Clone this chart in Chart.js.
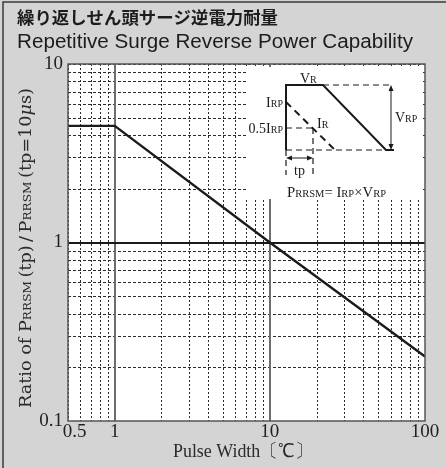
<!DOCTYPE html>
<html>
<head>
<meta charset="utf-8">
<script src="https://cdn.jsdelivr.net/npm/chart.js@4/dist/chart.umd.min.js"></script>
<style>
  html, body { margin: 0; padding: 0; background: #d4d4d4; }
</style>
</head>
<body>
<canvas id="c" width="446" height="468"></canvas>
<script>
// Surge reverse power derating curve (log-log)
const pulseWidth = [0.5, 1, 10, 100];
const powerRatio = [4.5, 4.5, 1, 0.23];

// Grid positions (1-2-...-9 per decade)
const xGridValues = [0.5, 0.6, 0.7, 0.8, 0.9, 1, 2, 3, 4, 5, 6, 7, 8, 9, 10, 20, 30, 40, 50, 60, 70, 80, 90, 100];
const yGridValues = [0.1, 0.2, 0.3, 0.4, 0.5, 0.6, 0.7, 0.8, 0.9, 1, 2, 3, 4, 5, 6, 7, 8, 9, 10];
const xTickLabels = ['0.5', '1', '10', '100'];
const yTickLabels = ['0.1', '1', '10'];
const xMajorLines = [1, 10];
const yMajorLines = [1];

const titleJa = '繰り返しせん頭サージ逆電力耐量';
const titleEn = 'Repetitive Surge Reverse Power Capability';
const xTitle = 'Pulse Width〔℃〕';

const SERIF = '"Liberation Serif", "Times New Roman", serif';
const WIDE_SERIF = '"DejaVu Serif", serif';
const BG = '#d4d4d4';

// draw a run of text pieces (text, size, style, family) on one baseline,
// optionally stretched to a given total width
function textRun(ctx, pieces, x, y, align, fitWidth) {
  const fontOf = p => (p[2] || '') + ' ' + p[1] + 'px ' + (p[3] || SERIF);
  let total = 0;
  const widths = pieces.map(p => {
    ctx.font = fontOf(p);
    const w = ctx.measureText(p[0]).width;
    total += w;
    return w;
  });
  const k = fitWidth ? fitWidth / total : 1;
  const shown = total * k;
  const start = align === 'center' ? x - shown / 2 : align === 'right' ? x - shown : x;
  ctx.save();
  ctx.translate(start, y);
  ctx.scale(k, 1);
  ctx.textAlign = 'left';
  ctx.textBaseline = 'alphabetic';
  let cx = 0;
  pieces.forEach((p, i) => {
    ctx.font = fontOf(p);
    ctx.fillText(p[0], cx, 0);
    cx += widths[i];
  });
  ctx.restore();
}

function line(ctx, x1, y1, x2, y2, w, dash) {
  ctx.save();
  ctx.lineWidth = w;
  ctx.setLineDash(dash || []);
  ctx.beginPath();
  ctx.moveTo(x1, y1);
  ctx.lineTo(x2, y2);
  ctx.stroke();
  ctx.restore();
}

function arrowHead(ctx, x, y, dx, dy) {
  const len = 6, wid = 2.5;
  ctx.beginPath();
  ctx.moveTo(x, y);
  ctx.lineTo(x - dx * len - dy * wid, y - dy * len + dx * wid);
  ctx.lineTo(x - dx * len + dy * wid, y - dy * len - dx * wid);
  ctx.closePath();
  ctx.fill();
}

const framePlugin = {
  id: 'frame',
  beforeDraw(chart) {
    const { ctx, chartArea: a } = chart;
    ctx.save();
    ctx.fillStyle = BG;
    ctx.fillRect(0, 0, chart.width, chart.height);
    ctx.strokeStyle = '#3a3a3a';
    ctx.lineWidth = 1.5;
    ctx.beginPath();
    ctx.moveTo(3, chart.height);
    ctx.lineTo(3, 2);
    ctx.lineTo(chart.width, 2);
    ctx.stroke();
    ctx.fillStyle = '#ffffff';
    ctx.fillRect(a.left, a.top, a.right - a.left, a.bottom - a.top);

    // titles
    ctx.fillStyle = '#1c1c1c';
    textRun(ctx, [[titleJa, 17, 'bold', '"Noto Sans CJK JP", sans-serif']], 17, 24, 'left', 261);
    textRun(ctx, [[titleEn, 20, '', '"Liberation Sans", Arial, sans-serif']], 17, 48, 'left', 396);

    // axis titles
    ctx.fillStyle = '#2a2a2a';
    textRun(ctx, [[xTitle, 19]], 243, 457, 'center', 140);
    ctx.save();
    ctx.translate(30.5, 248);
    ctx.rotate(-Math.PI / 2);
    textRun(ctx, [
      ['Ratio of P', 16, '', WIDE_SERIF], ['RRSM', 11, '', WIDE_SERIF], ['\u2009(tp)\u2009', 16, '', WIDE_SERIF],
      ['/', 16, '', WIDE_SERIF], ['\u2009P', 16, '', WIDE_SERIF], ['RRSM', 11, '', WIDE_SERIF],
      ['\u2009(tp=10', 16, '', WIDE_SERIF], ['μ', 16, 'italic', WIDE_SERIF], ['s)', 16, '', WIDE_SERIF]
    ], 0, 0, 'center', 320);
    ctx.restore();
    ctx.restore();
  },
  beforeDatasetsDraw(chart) {
    const { ctx, chartArea: a, scales } = chart;
    const xs = scales.x, ys = scales.y;
    ctx.save();
    ctx.beginPath();
    ctx.rect(a.left, a.top, a.right - a.left, a.bottom - a.top);
    ctx.clip();
    ctx.strokeStyle = '#2a2a2a';
    xGridValues.forEach(v => {
      if (xMajorLines.includes(v)) return;
      const px = Math.round(xs.getPixelForValue(v)) + 0.5;
      line(ctx, px, a.top, px, a.bottom, 1, [2, 2]);
    });
    yGridValues.forEach(v => {
      if (yMajorLines.includes(v)) return;
      const py = Math.round(ys.getPixelForValue(v)) + 0.5;
      line(ctx, a.left, py, a.right, py, 1, [3, 2]);
    });
    ctx.strokeStyle = '#6e6e6e';
    xMajorLines.forEach(v => {
      const px = Math.round(xs.getPixelForValue(v));
      line(ctx, px, a.top, px, a.bottom, 2);
    });
    ctx.strokeStyle = '#1a1a1a';
    yMajorLines.forEach(v => {
      const py = Math.round(ys.getPixelForValue(v));
      line(ctx, a.left, py, a.right, py, 2);
    });
    ctx.restore();
  },
  afterDatasetsDraw(chart) {
    const { ctx, chartArea: a } = chart;
    ctx.save();
    // waveform explanation box in the upper-right corner
    const ox = a.right - 179, oy = a.top + 3;
    ctx.fillStyle = '#ffffff';
    ctx.fillRect(ox, oy, 176, 132);
    ctx.translate(ox, oy);
    ctx.strokeStyle = '#1a1a1a';
    ctx.fillStyle = '#1a1a1a';
    // voltage waveform
    ctx.lineWidth = 2;
    ctx.beginPath();
    ctx.moveTo(40, 83);
    ctx.lineTo(40, 18);
    ctx.lineTo(77, 18);
    ctx.lineTo(140, 83);
    ctx.lineTo(148, 83);
    ctx.stroke();
    line(ctx, 77, 18, 147, 18, 1.2, [6, 4]);
    line(ctx, 40, 83, 140, 83, 1.2, [6, 4]);
    // current waveform
    line(ctx, 40, 35, 89, 83, 2, [7, 5]);
    line(ctx, 40, 61, 67, 61, 1.2, [6, 4]);
    line(ctx, 67, 61, 67, 108, 1.2, [6, 4]);
    line(ctx, 40, 83, 40, 108, 1.2, [6, 4]);
    // VRP arrow
    line(ctx, 145, 24, 145, 77, 1);
    arrowHead(ctx, 145, 18, 0, -1);
    arrowHead(ctx, 145, 83, 0, 1);
    // tp arrow
    line(ctx, 46, 91, 61, 91, 1);
    arrowHead(ctx, 40, 91, -1, 0);
    arrowHead(ctx, 67, 91, 1, 0);
    // labels
    textRun(ctx, [['V', 14], ['R', 10]], 54, 16, 'left');
    textRun(ctx, [['I', 14], ['RP', 10]], 37, 40, 'right');
    textRun(ctx, [['0.5I', 14], ['RP', 10]], 37, 66, 'right');
    textRun(ctx, [['I', 14], ['R', 10]], 71, 61, 'left');
    textRun(ctx, [['V', 14], ['RP', 10]], 149, 55, 'left');
    textRun(ctx, [['tp', 14]], 53.5, 108, 'center');
    textRun(ctx, [['P', 14], ['RRSM', 10], ['= I', 14], ['RP', 10], ['×V', 14], ['RP', 10]], 41, 130, 'left', 99);
    ctx.restore();

    // plot frame
    ctx.save();
    ctx.strokeStyle = '#555';
    ctx.lineWidth = 1.5;
    ctx.strokeRect(a.left, a.top, a.right - a.left, a.bottom - a.top);
    ctx.restore();
  }
};

new Chart(document.getElementById('c'), {
  type: 'line',
  data: {
    datasets: [{
      data: pulseWidth.map((x, i) => ({ x: x, y: powerRatio[i] })),
      borderColor: '#1a1a1a',
      borderWidth: 2.4,
      pointRadius: 0,
      tension: 0,
      fill: false
    }]
  },
  options: {
    responsive: false,
    animation: false,
    devicePixelRatio: 1,
    layout: { padding: { left: 0, top: 64, right: 21, bottom: 0 } },
    plugins: { legend: { display: false }, tooltip: { enabled: false }, title: { display: false } },
    scales: {
      x: {
        type: 'logarithmic',
        min: 0.5,
        max: 100,
        afterBuildTicks: s => { s.ticks = xGridValues.map(v => ({ value: v })); },
        afterFit: s => { s.height = 47; },
        grid: { display: false, drawTicks: false },
        border: { display: false },
        ticks: {
          autoSkip: false,
          maxRotation: 0,
          padding: 0,
          color: '#222',
          font: { family: SERIF, size: 19 },
          callback: v => {
            const t = String(v);
            if (!xTickLabels.includes(t)) return '';
            return t === '0.5' ? '\u2002\u2009' + t : t;
          }
        }
      },
      y: {
        type: 'logarithmic',
        min: 0.1,
        max: 10,
        afterBuildTicks: s => { s.ticks = yGridValues.map(v => ({ value: v })); },
        afterFit: s => { s.width = 68; },
        grid: { display: false, drawTicks: false },
        border: { display: false },
        ticks: {
          autoSkip: false,
          padding: 5,
          color: '#222',
          font: { family: SERIF, size: 19 },
          callback: v => {
            const t = String(v);
            return yTickLabels.includes(t) ? t : '';
          }
        }
      }
    }
  },
  plugins: [framePlugin]
});
</script>
</body>
</html>
